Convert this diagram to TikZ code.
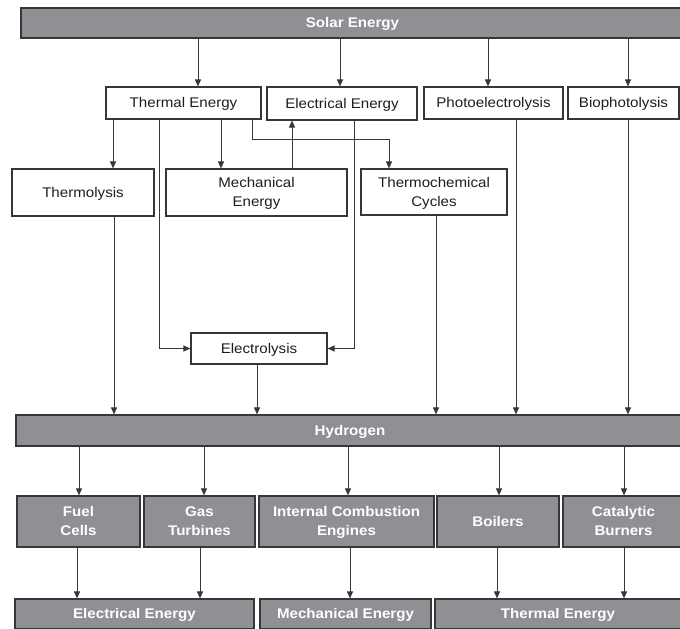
\documentclass[tikz,border=0pt]{standalone}
\usepackage{fontspec}
\setmainfont{Liberation Sans}[FakeStretch=1.08]
\usetikzlibrary{arrows.meta,calc}
\definecolor{BarClr}{RGB}{143,144,148}
\definecolor{EdgeClr}{RGB}{55,55,58}
\definecolor{TxtClr}{RGB}{30,30,34}
\tikzset{
  sz/.style 2 args={minimum width=#1pt,minimum height=#2pt},
  whitebox/.style={draw=EdgeClr,line width=1.1pt,fill=white,text=TxtClr,align=center,inner sep=0pt,text depth=1pt,font=\fontsize{14}{19}\selectfont},
  graybox/.style={draw=EdgeClr,line width=1.2pt,fill=BarClr,text=white,align=center,inner sep=0pt,text depth=1pt,font=\fontsize{14}{19}\selectfont\bfseries},
  arr/.style={draw=EdgeClr,line width=1pt,-{Triangle[length=7pt,width=6pt]}}
}

\begin{document}
\begin{tikzpicture}[x=1pt,y=-1pt]
\useasboundingbox (0,0) rectangle (680,629);

\node[graybox,sz={663}{30}] (solar) at (352.5,23) {Solar Energy};

\node[whitebox,sz={155}{32}] (thermal) at (183.5,103) {Thermal Energy};
\node[whitebox,sz={150}{33}] (elec) at (342,103.5) {Electrical Energy};
\node[whitebox,sz={139}{32}] (photo) at (493.5,103) {Photoelectrolysis};
\node[whitebox,sz={111}{32}] (bio) at (623.5,103) {Biophotolysis};

\node[whitebox,sz={142}{47}] (thermolysis) at (83,192.5) {Thermolysis};
\node[whitebox,sz={181}{47}] (mech) at (256.5,192.5) {Mechanical\\Energy};
\node[whitebox,sz={146}{46}] (thermochem) at (434,192) {Thermochemical\\Cycles};

\node[whitebox,sz={136}{31}] (electrolysis) at (259,348.5) {Electrolysis};

\node[graybox,sz={668}{31}] (hydrogen) at (350,430.5) {Hydrogen};

\node[graybox,sz={123}{51}] (fuel) at (78.5,521.5) {Fuel\\Cells};
\node[graybox,sz={111}{51}] (gas) at (199.5,521.5) {Gas\\Turbines};
\node[graybox,sz={175}{51}] (ice) at (346.5,521.5) {Internal Combustion\\Engines};
\node[graybox,sz={122}{51}] (boiler) at (498,521.5) {Boilers};
\node[graybox,sz={121}{51}] (catal) at (623.5,521.5) {Catalytic\\Burners};

\node[graybox,sz={239}{30}] (outelec) at (134.5,614) {Electrical Energy};
\node[graybox,sz={171}{30}] (outmech) at (345.5,614) {Mechanical Energy};
\node[graybox,sz={246}{30}] (outtherm) at (558,614) {Thermal Energy};

\draw[arr] (solar.south -| 198,0) -- (thermal.north -| 198,0);
\draw[arr] (solar.south -| 340,0) -- (elec.north -| 340,0);
\draw[arr] (solar.south -| 488,0) -- (photo.north -| 488,0);
\draw[arr] (solar.south -| 628,0) -- (bio.north -| 628,0);

\draw[arr] (thermal.south -| 113,0) -- (thermolysis.north -| 113,0);
\draw[arr] (thermal.south -| 221,0) -- (mech.north -| 221,0);
\draw[arr] (thermal.south -| 159,0) |- (electrolysis.west);
\draw[arr] (thermal.south -| 252,0) -- (252,139) -| (thermochem.north -| 389,0);
\draw[arr] (mech.north -| 292,0) -- (elec.south -| 292,0);
\draw[arr] (elec.south -| 354,0) |- (electrolysis.east);

\draw[arr] (thermolysis.south -| 114,0) -- (hydrogen.north -| 114,0);
\draw[arr] (electrolysis.south -| 257,0) -- (hydrogen.north -| 257,0);
\draw[arr] (thermochem.south -| 436,0) -- (hydrogen.north -| 436,0);
\draw[arr] (photo.south -| 516,0) -- (hydrogen.north -| 516,0);
\draw[arr] (bio.south -| 628,0) -- (hydrogen.north -| 628,0);

\draw[arr] (hydrogen.south -| 79,0) -- (fuel.north -| 79,0);
\draw[arr] (hydrogen.south -| 204,0) -- (gas.north -| 204,0);
\draw[arr] (hydrogen.south -| 348,0) -- (ice.north -| 348,0);
\draw[arr] (hydrogen.south -| 499,0) -- (boiler.north -| 499,0);
\draw[arr] (hydrogen.south -| 624,0) -- (catal.north -| 624,0);

\draw[arr] (fuel.south -| 77,0) -- (outelec.north -| 77,0);
\draw[arr] (gas.south -| 200,0) -- (outelec.north -| 200,0);
\draw[arr] (ice.south -| 350,0) -- (outmech.north -| 350,0);
\draw[arr] (boiler.south -| 497,0) -- (outtherm.north -| 497,0);
\draw[arr] (catal.south -| 624,0) -- (outtherm.north -| 624,0);
\end{tikzpicture}
\end{document}
